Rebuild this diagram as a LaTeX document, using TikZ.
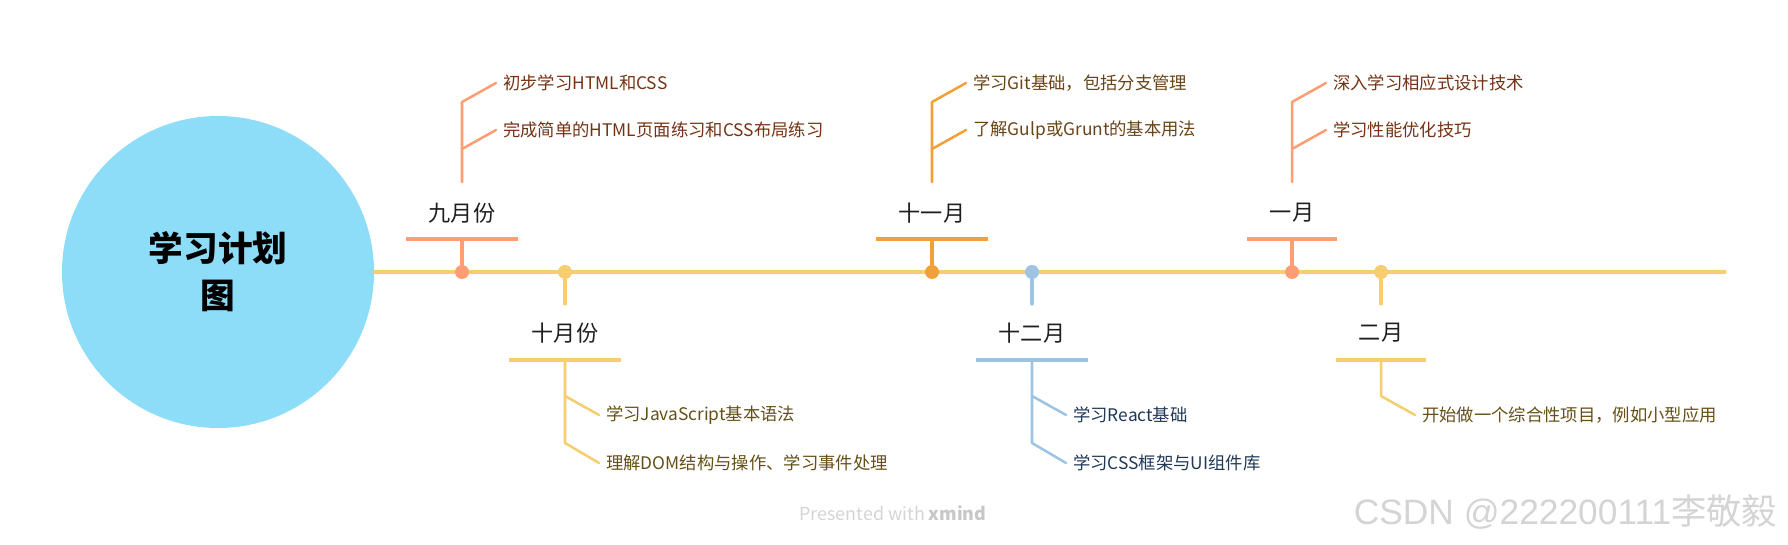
\documentclass[tikz,border=0pt]{standalone}
\usepackage{fontspec}
\setmainfont{Noto Sans CJK SC}
\newfontfamily\wmfont{Liberation Sans}
\usetikzlibrary{positioning}
\definecolor{hubblue}{RGB}{142,221,248}
\definecolor{axisyellow}{RGB}{246,206,112}
\definecolor{salmon}{RGB}{255,158,116}
\definecolor{amber}{RGB}{242,160,58}
\definecolor{skyline}{RGB}{158,196,228}
\definecolor{salmontext}{RGB}{116,50,20}
\definecolor{ambertext}{RGB}{104,68,24}
\definecolor{yellowtext}{RGB}{100,80,22}
\definecolor{skytext}{RGB}{32,56,86}
\definecolor{markgray}{RGB}{212,212,212}
\begin{document}
\begin{tikzpicture}[x=0.75pt,y=-0.75pt,line cap=round,line join=round,
  hub/.style={circle,fill=hubblue,minimum size=234pt,inner sep=0pt,align=center,
    font=\bfseries\fontsize{26}{35}\selectfont},
  axis/.style={axisyellow,line width=2.6pt},
  dot/.style={circle,fill=#1,minimum size=10.5pt,inner sep=0pt},
  month/.style={inner sep=0pt,text=black!88,font=\fontsize{16.6}{18}\selectfont},
  bar/.style={#1,line width=2.6pt,line cap=butt},
  stem/.style={#1,line width=2.4pt},
  twig/.style={#1,line width=1.9pt},
  item/.style={anchor=west,inner xsep=5.2pt,inner ysep=0pt,text=#1,
    font=\fontsize{13}{15}\selectfont}]
  \useasboundingbox (0,0) rectangle (1788,545);
  % Centre topic and time axis.
  \node[hub] (plan) at (218,272) {学习计划\\图};
  \coordinate (axis-end) at (1725,272);
  \draw[axis] (plan) -- (axis-end);
  % Months above the axis.
  \foreach \x/\m/\lab/\c/\t/\ia/\ib in {
      462/sep/九月份/salmon/salmontext/初步学习HTML和CSS/完成简单的HTML页面练习和CSS布局练习,
      932/nov/十一月/amber/ambertext/学习Git基础，包括分支管理/了解Gulp或Grunt的基本用法,
      1292/jan/一月/salmon/salmontext/深入学习相应式设计技术/学习性能优化技巧}{
    \node[dot=\c] (\m-dot) at (\x,272) {};
    \node[month] (\m) at (\x,213) {\lab};
    \coordinate (\m-bar) at (\x,239);
    \draw[stem=\c] (\m-bar) -- (\m-dot);
    \draw[bar=\c] ([xshift=-17pt]\m.west |- \m-bar) -- ([xshift=17pt]\m.east |- \m-bar);
    \coordinate (\m-low) at (\x,182);
    \coordinate (\m-mid) at (\x,149);
    \coordinate (\m-top) at (\x,102);
    \node[item=\t] (\m-1) at (\x+34,83) {\ia};
    \node[item=\t] (\m-2) at (\x+34,130) {\ib};
    \draw[twig=\c] (\m-1.west) -- (\m-top) -- (\m-low);
    \draw[twig=\c] (\m-mid) -- (\m-2.west);
  }
  % Months below the axis.
  \foreach \x/\m/\lab/\c/\t/\ia/\ib in {
      565/oct/十月份/axisyellow/yellowtext/学习JavaScript基本语法/理解DOM结构与操作、学习事件处理,
      1032/dec/十二月/skyline/skytext/学习React基础/学习CSS框架与UI组件库}{
    \node[dot=\c] (\m-dot) at (\x,272) {};
    \coordinate (\m-up) at (\x,304);
    \draw[stem=\c] (\m-dot) -- (\m-up);
    \node[month] (\m) at (\x,333) {\lab};
    \coordinate (\m-bar) at (\x,360);
    \draw[bar=\c] ([xshift=-17pt]\m.west |- \m-bar) -- ([xshift=17pt]\m.east |- \m-bar);
    \coordinate (\m-mid) at (\x,396);
    \coordinate (\m-low) at (\x,443);
    \node[item=\t] (\m-1) at (\x+34,415) {\ia};
    \node[item=\t] (\m-2) at (\x+34,463) {\ib};
    \draw[twig=\c] (\m-bar) -- (\m-low) -- (\m-2.west);
    \draw[twig=\c] (\m-mid) -- (\m-1.west);
  }
  \node[dot=axisyellow] (feb-dot) at (1381,272) {};
  \coordinate (feb-up) at (1381,304);
  \draw[stem=axisyellow] (feb-dot) -- (feb-up);
  \node[month] (feb) at (1381,333) {二月};
  \coordinate (feb-bar) at (1381,360);
  \draw[bar=axisyellow] ([xshift=-17pt]feb.west |- feb-bar) -- ([xshift=17pt]feb.east |- feb-bar);
  \coordinate (feb-mid) at (1381,396);
  \node[item=yellowtext] (feb-1) at (1415,415) {开始做一个综合性项目，例如小型应用};
  \draw[twig=axisyellow] (feb-bar) -- (feb-mid) -- (feb-1.west);
  % Watermarks.
  \node[text=markgray,font=\fontsize{13.4}{15}\selectfont] (xmind) at (893,513)
    {Presented with \textcolor{black!22}{\textbf{xmind}}};
  \node[anchor=east,text=markgray,font=\fontsize{26.5}{29}\selectfont] (csdn) at (1782,512)
    {{\wmfont CSDN @222200111}李敬毅};
\end{tikzpicture}
\end{document}
